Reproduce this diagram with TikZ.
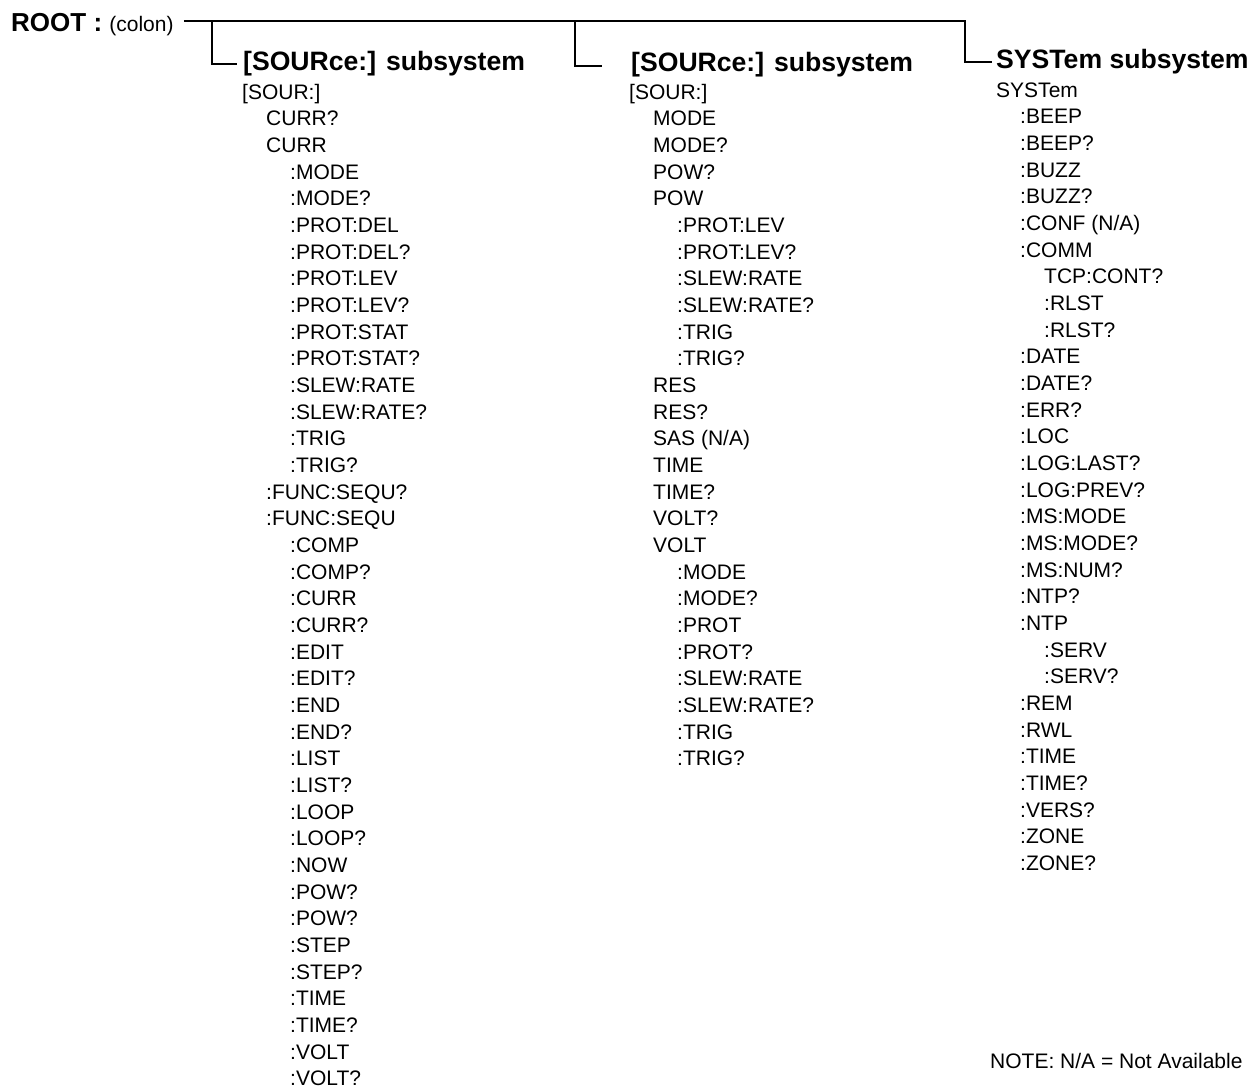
\documentclass[tikz,border=0pt]{standalone}
\usepackage{fontspec}
\setmainfont{Liberation Sans}
\begin{document}
\begin{tikzpicture}[x=1pt,y=-1pt,
  item/.style={anchor=base west,inner sep=0pt,font=\fontsize{21}{25}\selectfont},
  head/.style={anchor=base west,inner sep=0pt,font=\fontsize{26.6}{30}\selectfont\bfseries},
  conn/.style={line width=2pt}]
\useasboundingbox (0,0) rectangle (1253,1088);

% root
\node[anchor=base west,inner sep=0pt] (root) at (11,31.5)
  {{\fontsize{26}{30}\selectfont\bfseries ROOT : }{\fontsize{21}{25}\selectfont (colon)}};

% headings
\node[head] (h1) at (243,70) {[SOURce:] subsystem};
\node[head] (h2) at (631,71) {[SOURce:] subsystem};
\node[head] (h3) at (996,68) {SYSTem subsystem};

% junctions and connector ends
\coordinate (j1) at (212,21);
\coordinate (j2) at (575,21);
\coordinate (j3) at (965,21);
\coordinate (e1) at (237,64.3);
\coordinate (e2) at (602,65.7);
\coordinate (e3) at (992,61.7);

\draw[conn] ([xshift=10pt]root.east |- j3) -- (j3) |- (e3);
\draw[conn] (j1) |- (e1);
\draw[conn] (j2) |- (e2);

% column 1
\foreach \l/\t [count=\i from 0] in {
  0/{[SOUR:]},1/CURR?,1/CURR,
  2/:MODE,2/:MODE?,2/:PROT:DEL,2/:PROT:DEL?,2/:PROT:LEV,2/:PROT:LEV?,
  2/:PROT:STAT,2/:PROT:STAT?,2/:SLEW:RATE,2/:SLEW:RATE?,2/:TRIG,2/:TRIG?,
  1/:FUNC:SEQU?,1/:FUNC:SEQU,
  2/:COMP,2/:COMP?,2/:CURR,2/:CURR?,2/:EDIT,2/:EDIT?,2/:END,2/:END?,
  2/:LIST,2/:LIST?,2/:LOOP,2/:LOOP?,2/:NOW,2/:POW?,2/:POW?,2/:STEP,2/:STEP?,
  2/:TIME,2/:TIME?,2/:VOLT,2/:VOLT?}
  \node[item] (a\i) at ({242+24*\l},{99+26.67*\i}) {\t};

% column 2
\foreach \l/\t [count=\i from 0] in {
  0/{[SOUR:]},1/MODE,1/MODE?,1/POW?,1/POW,
  2/:PROT:LEV,2/:PROT:LEV?,2/:SLEW:RATE,2/:SLEW:RATE?,2/:TRIG,2/:TRIG?,
  1/RES,1/RES?,1/{SAS (N/A)},1/TIME,1/TIME?,1/VOLT?,1/VOLT,
  2/:MODE,2/:MODE?,2/:PROT,2/:PROT?,2/:SLEW:RATE,2/:SLEW:RATE?,2/:TRIG,2/:TRIG?}
  \node[item] (b\i) at ({629+24*\l},{99+26.67*\i}) {\t};

% column 3
\foreach \l/\t [count=\i from 0] in {
  0/SYSTem,1/:BEEP,1/:BEEP?,1/:BUZZ,1/:BUZZ?,1/{:CONF (N/A)},1/:COMM,
  2/TCP:CONT?,2/:RLST,2/:RLST?,
  1/:DATE,1/:DATE?,1/:ERR?,1/:LOC,1/:LOG:LAST?,1/:LOG:PREV?,1/:MS:MODE,
  1/:MS:MODE?,1/:MS:NUM?,1/:NTP?,1/:NTP,
  2/:SERV,2/:SERV?,
  1/:REM,1/:RWL,1/:TIME,1/:TIME?,1/:VERS?,1/:ZONE,1/:ZONE?}
  \node[item] (c\i) at ({996+24*\l},{97+26.67*\i}) {\t};

\node[item] (note) at (990,1068) {NOTE: N/A = Not Available};
\end{tikzpicture}
\end{document}
